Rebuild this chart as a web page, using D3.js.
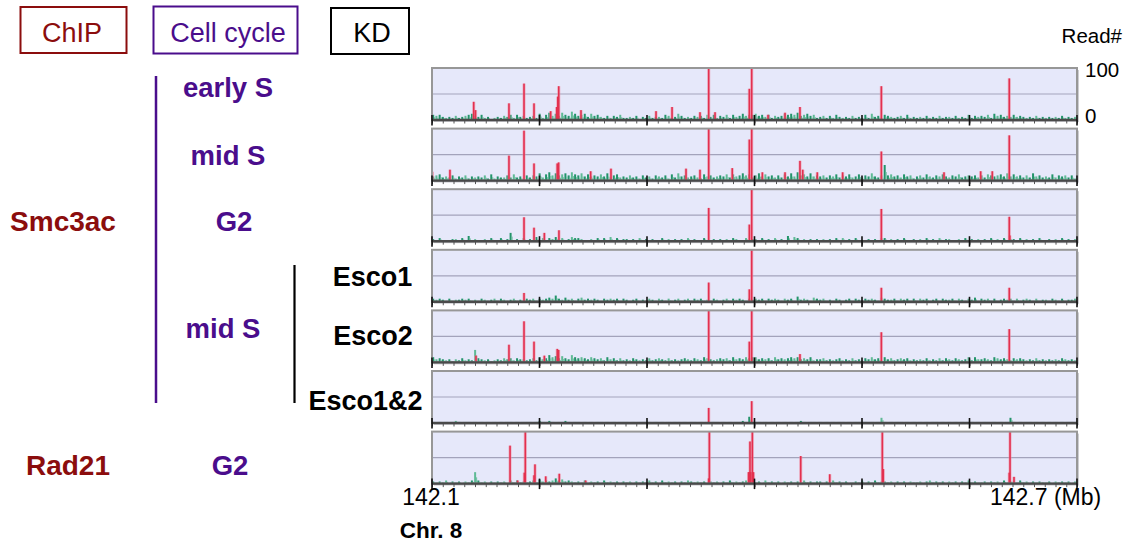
<!DOCTYPE html>
<html>
<head>
<meta charset="utf-8">
<script src="https://cdn.jsdelivr.net/npm/d3@7"></script>
<style>
  body { margin: 0; background: #fff; }
  svg { display: block; }
  text { font-family: "Liberation Sans", Arial, Helvetica, sans-serif; }
</style>
</head>
<body>
<svg id="chart" width="1131" height="548"></svg>
<script>
// Genomic window on chromosome 8 (Mb)
const region = [142.1, 142.7];
const majorTicks = [142.1, 142.2, 142.3, 142.4, 142.5, 142.6, 142.7];
const axisLabels = ["142.1", "142.7 (Mb)"];
const readTicks = ["100", "0"];
const readMax = 100;          // tracks are drawn 0..100 reads, taller peaks are clipped
const binSize = 0.003;        // background bins, Mb per character below

// Background read counts per 3 kb bin, one base-36 character per bin (x2 reads)
const bg_earlyS  = "5453232423 4564352312 3243525342 3426257464 7548645636 4532424352 2324132423 3254236423 2434253524 3525346455 6453524346 5657456452 3424253232 4232526342 5432342523 2324232423 3242325243 4352645343 5343232423 2323242323";
const bg_midS    = "4563435243 5243435262 4335363425 3547368575 6758657464 5464735634 3534253425 4352637453 4532645345 4636457563 5746453536 4748564745 4535463546 3463547435 f564536452 4536435464 3546345453 5365456474 6453537453 4363545352";
const bg_G2      = "2131012213 1512102131 1302812031 2141303241 3124332102 1303141302 2021302120 1302120213 1201310212 1213201302 2031213120 5143021212 1202131302 1301120213 3120213102 1203121302 2102131202 1213021312 2031202130 1202130212";
const bg_esco1   = "3232131223 2312132123 1321231213 2313234363 2423134232 3213232313 2123121321 3213123123 1323121321 2313232132 3231323213 2315232143 2312132123 1321323214 3223132313 1323123132 2313213241 3231312323 1312321312 2132131223";
const bg_esco2   = "5343231324 232c432312 3243424332 3425347564 6437545435 4342534242 3243232423 4324232343 2432543234 3425343545 5343425343 4545343523 3423234232 4232435342 5342343423 2324232424 3243235253 3432543432 4343232423 2323243232";
const bg_esco12  = "1010101210 1101010101 0101101011 1012102101 1210110101 0110101011 1010110101 0101011010 1101010110 1010112160 1101010101 0101210110 1010101101 0110101015 1010110101 0101011010 1010101101 0110101015 1010110101 0101010110";
const bg_rad21   = "2121302120 213b312021 2120313121 2314232353 4232121302 1203121202 1202121312 0312120213 2121202120 2131212312 1203121202 1212031212 2021312120 1213021312 2120212021 1202312120 2120213121 1212120312 2131202121 1202121202";

// Enriched sites: [position (Mb), reads]
const pk_earlyS = [[142.1388,35],[142.1405,19],[142.1716,32],[142.1856,70],[142.1949,32],[142.2104,17],[142.2160,25],[142.2170,45],[142.2179,65],[142.2386,19],[142.3084,17],[142.3233,25],[142.3493,15],[142.3574,150],[142.3633,15],[142.3952,60],[142.3974,150],[142.4126,10],[142.4284,14],[142.4423,25],[142.5180,65],[142.6370,80]];
const pk_midS   = [[142.1003,17],[142.1167,21],[142.1716,48],[142.1856,96],[142.1949,33],[142.2165,33],[142.2178,35],[142.2476,18],[142.2665,23],[142.3363,23],[142.3493,21],[142.3574,150],[142.3793,24],[142.3952,79],[142.3974,150],[142.4073,16],[142.4284,16],[142.4423,38],[142.4449,21],[142.4584,16],[142.4820,16],[142.5180,56],[142.5763,16],[142.6104,18],[142.6212,18],[142.6370,87]];
const pk_G2     = [[142.1856,46],[142.1949,26],[142.2045,16],[142.2181,21],[142.3574,64],[142.3952,32],[142.3974,150],[142.5180,62],[142.6370,47],[142.6375,11]];
const pk_esco1  = [[142.1856,17],[142.3574,37],[142.3952,24],[142.3974,150],[142.5180,27],[142.6370,27]];
const pk_esco2  = [[142.1409,13],[142.1716,34],[142.1856,79],[142.1949,40],[142.2045,13],[142.2165,26],[142.2178,24],[142.3574,150],[142.3952,40],[142.3974,150],[142.4423,16],[142.5180,58],[142.6370,64]];
const pk_esco12 = [[142.3574,29],[142.3974,42]];
const pk_rad21  = [[142.1726,73],[142.1797,6],[142.1859,21],[142.1868,150],[142.1949,16],[142.1958,37],[142.2058,14],[142.2184,19],[142.2430,6],[142.3574,10],[142.3580,150],[142.3945,22],[142.3952,22],[142.3958,81],[142.3965,22],[142.3980,150],[142.3990,22],[142.4430,53],[142.4700,18],[142.5189,150],[142.5198,28],[142.6370,21],[142.6377,150],[142.6414,13]];

const tracks = [
  { bg: bg_earlyS, peaks: pk_earlyS },
  { bg: bg_midS,   peaks: pk_midS },
  { bg: bg_G2,     peaks: pk_G2 },
  { bg: bg_esco1,  peaks: pk_esco1 },
  { bg: bg_esco2,  peaks: pk_esco2 },
  { bg: bg_esco12, peaks: pk_esco12 },
  { bg: bg_rad21,  peaks: pk_rad21 }
];

const C = {
  chip: "#8b0d0d", cycle: "#4a0d8c", kd: "#000",
  panel: "#e6e8fa", grid: "#a3a3bb", frame: "#979797",
  axis: "#4a4a4a", red: "#e3304f", pink: "#f08aa0",
  green: "#23946a", greenLight: "#5fba95"
};

const svg = d3.select("#chart");
const x = d3.scaleLinear().domain(region).range([432, 1077]);
const panelTop0 = 68, panelStep = 60.6, panelH = 52;
const defs = svg.append("defs");

tracks.forEach((t, i) => {
  const top = panelTop0 + i * panelStep;
  const y = d3.scaleLinear().domain([0, readMax]).range([top + panelH, top]);
  const g = svg.append("g");
  const clipId = "clip" + i;
  const w = x(region[1]) - x(region[0]);
  defs.append("clipPath").attr("id", clipId)
    .append("rect").attr("x", x(region[0])).attr("y", top)
    .attr("width", w).attr("height", panelH);

  // shadow + background
  g.append("rect").attr("x", x(region[0]) + 2).attr("y", top + 2)
    .attr("width", w).attr("height", panelH).attr("fill", "#cdcdd2");
  g.append("rect").attr("x", x(region[0])).attr("y", top)
    .attr("width", w).attr("height", panelH).attr("fill", C.panel);
  g.append("line").attr("x1", x(region[0])).attr("x2", x(region[1]))
    .attr("y1", y(50)).attr("y2", y(50))
    .attr("stroke", C.grid).attr("stroke-width", 1.2);

  const inner = g.append("g").attr("clip-path", `url(#${clipId})`);

  // background reads
  const bins = t.bg.replace(/\s+/g, "").split("").map((ch, k) => ({
    pos: region[0] + k * binSize, reads: parseInt(ch, 36) * 2, k
  }));
  inner.selectAll("rect.bg").data(bins).join("rect")
    .attr("class", "bg")
    .attr("x", d => x(d.pos) + 0.2)
    .attr("width", 2)
    .attr("y", d => y(d.reads))
    .attr("height", d => y(0) - y(d.reads))
    .attr("fill", d => d.k % 3 === 1 ? C.greenLight : C.green);
  inner.selectAll("rect.bg2").data(bins).join("rect")
    .attr("class", "bg2")
    .attr("x", d => x(d.pos) + 2.2)
    .attr("width", 1)
    .attr("y", d => y(Math.max(2, d.reads * 0.55)))
    .attr("height", d => y(0) - y(Math.max(2, d.reads * 0.55)))
    .attr("fill", C.greenLight)
    .attr("opacity", 0.9);

  // peaks: pale halo then core
  inner.selectAll("rect.halo").data(t.peaks).join("rect")
    .attr("class", "halo")
    .attr("x", d => x(d[0]) - 1.6).attr("width", 3.2)
    .attr("y", d => y(d[1])).attr("height", d => y(0) - y(d[1]))
    .attr("fill", C.pink).attr("opacity", 0.55);
  inner.selectAll("rect.pk").data(t.peaks).join("rect")
    .attr("class", "pk")
    .attr("x", d => x(d[0]) - 0.8).attr("width", 1.6)
    .attr("y", d => y(d[1])).attr("height", d => y(0) - y(d[1]))
    .attr("fill", C.red);

  // frame
  g.append("rect").attr("x", x(region[0])).attr("y", top)
    .attr("width", w).attr("height", panelH)
    .attr("fill", "none").attr("stroke", C.frame).attr("stroke-width", 2);

  // genomic axis: minor ticks every 10 kb, major every 100 kb
  const base = y(0);
  const minor = d3.range(0, 61).map(k => region[0] + k * 0.01);
  const ax = g.append("g").attr("transform", `translate(0,${base})`)
    .call(d3.axisBottom(x).tickValues(minor).tickSize(3.5).tickFormat(""));
  ax.select(".domain").remove();
  ax.selectAll(".tick line").attr("stroke", "#555").attr("stroke-width", 1);
  g.append("line").attr("x1", x(region[0])).attr("x2", x(region[1]))
    .attr("y1", base).attr("y2", base)
    .attr("stroke", C.axis).attr("stroke-width", 2.4);
  g.selectAll("line.major").data(majorTicks).join("line")
    .attr("class", "major")
    .attr("x1", d => x(d)).attr("x2", d => x(d))
    .attr("y1", base - 5).attr("y2", base + 5.5)
    .attr("stroke", "#111").attr("stroke-width", 1.6);
});

// header boxes
function box(x0, y0, w, h, color, label, cx, by) {
  svg.append("rect").attr("x", x0).attr("y", y0).attr("width", w).attr("height", h)
    .attr("fill", "none").attr("stroke", color).attr("stroke-width", 2);
  svg.append("text").attr("x", cx).attr("y", by).attr("text-anchor", "middle")
    .attr("font-size", 27).attr("fill", color).text(label);
}
box(20.5, 7, 106, 46, C.chip, "ChIP", 72, 41.5);
box(153.5, 6.5, 144, 47, C.cycle, "Cell cycle", 228, 41.5);
box(331, 8, 78, 46, C.kd, "KD", 372, 42);

// row labels
function label(txt, cx, by, color, size) {
  svg.append("text").attr("x", cx).attr("y", by).attr("text-anchor", "middle")
    .attr("font-size", size).attr("font-weight", "bold").attr("fill", color).text(txt);
}
label("early S", 228, 97, C.cycle, 27.5);
label("mid S", 228, 164.5, C.cycle, 27.5);
label("G2", 234, 231, C.cycle, 27.5);
label("Smc3ac", 63, 231, C.chip, 28);
label("mid S", 223, 338, C.cycle, 27.5);
label("Esco1", 372.5, 286, C.kd, 27);
label("Esco2", 373, 345, C.kd, 27);
label("Esco1&2", 365.5, 410, C.kd, 27);
label("Rad21", 68, 475, C.chip, 28);
label("G2", 230, 475, C.cycle, 27.5);

// bracket lines
svg.append("line").attr("x1", 156).attr("x2", 156).attr("y1", 76).attr("y2", 403)
  .attr("stroke", C.cycle).attr("stroke-width", 2.5);
svg.append("line").attr("x1", 294.5).attr("x2", 294.5).attr("y1", 265).attr("y2", 403)
  .attr("stroke", "#000").attr("stroke-width", 2.2);

// read scale
svg.append("text").attr("x", 1122).attr("y", 43).attr("text-anchor", "end")
  .attr("font-size", 20.5).text("Read#");
svg.append("text").attr("x", 1085).attr("y", 76.5).attr("font-size", 20.5).text(readTicks[0]);
svg.append("text").attr("x", 1085).attr("y", 123).attr("font-size", 20.5).text(readTicks[1]);

// genomic coordinates
svg.append("text").attr("x", x(region[0]) - 1).attr("y", 505).attr("text-anchor", "middle")
  .attr("font-size", 23).text(axisLabels[0]);
svg.append("text").attr("x", 990).attr("y", 505)
  .attr("font-size", 23).text(axisLabels[1]);
svg.append("text").attr("x", 431).attr("y", 538).attr("text-anchor", "middle")
  .attr("font-size", 22.5).attr("font-weight", "bold").text("Chr. 8");
</script>
</body>
</html>
